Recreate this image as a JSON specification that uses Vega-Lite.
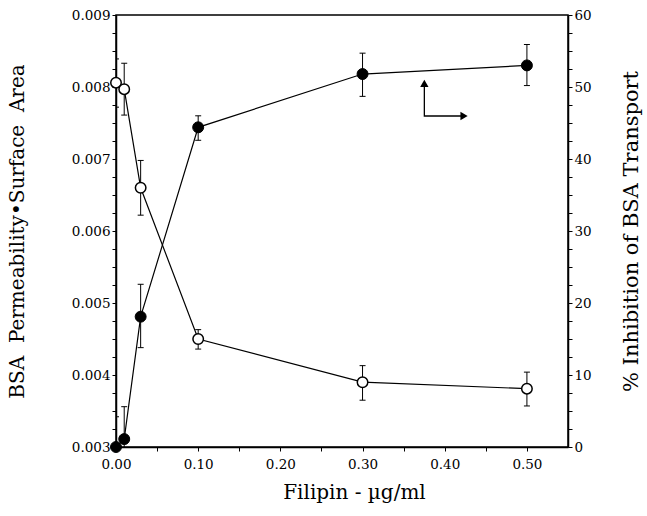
{
  "$schema": "https://vega.github.io/schema/vega-lite/v6.json",
  "width": 452,
  "height": 432,
  "autosize": {"type": "none"},
  "padding": {"left": 116, "top": 15, "right": 79, "bottom": 69},
  "background": "white",
  "config": {
    "view": {"stroke": "black", "strokeWidth": 1.5},
    "axis": {
      "domainColor": "black", "domainWidth": 1.5, "tickColor": "black", "tickSize": 4, "tickWidth": 1,
      "grid": false, "labelFont": "DejaVu Serif", "labelFontSize": 13.5, "labelColor": "black",
      "titleFont": "DejaVu Serif", "titleFontSize": 20, "titleFontWeight": "normal", "titleColor": "black",
      "labelOverlap": false, "labelFlush": false, "labelBound": false
    }
  },
  "datasets": {
    "perm": [
      {"x": 0, "y": 0.00806, "lo": 0.00772, "hi": 0.00839},
      {"x": 0.01, "y": 0.00797, "lo": 0.00761, "hi": 0.00833},
      {"x": 0.03, "y": 0.0066, "lo": 0.00622, "hi": 0.00698},
      {"x": 0.1, "y": 0.0045, "lo": 0.00436, "hi": 0.00463},
      {"x": 0.3, "y": 0.0039, "lo": 0.00365, "hi": 0.00413},
      {"x": 0.5, "y": 0.00381, "lo": 0.00357, "hi": 0.00404}
    ],
    "inhib": [
      {"x": 0, "y": 0, "lo": -4.2, "hi": 4.2},
      {"x": 0.01, "y": 1.1, "lo": -3.4, "hi": 5.6},
      {"x": 0.03, "y": 18.1, "lo": 13.8, "hi": 22.6},
      {"x": 0.1, "y": 44.4, "lo": 42.6, "hi": 46.0},
      {"x": 0.3, "y": 51.8, "lo": 48.7, "hi": 54.7},
      {"x": 0.5, "y": 53.0, "lo": 50.2, "hi": 55.9}
    ],
    "arrow": [
      {"x": 0.3752, "y": 50.5, "ord": 1},
      {"x": 0.3752, "y": 45.97, "ord": 2},
      {"x": 0.4235, "y": 45.97, "ord": 3}
    ],
    "heads": [
      {"x": 0.3752, "y": 50.5, "dir": "up"},
      {"x": 0.4235, "y": 45.97, "dir": "right"}
    ]
  },
  "encoding": {
    "x": {
      "field": "x", "type": "quantitative",
      "scale": {"domain": [0, 0.55], "nice": false, "zero": false},
      "axis": {
        "orient": "bottom",
        "values": [0, 0.05, 0.1, 0.15, 0.2, 0.25, 0.3, 0.35, 0.4, 0.45, 0.5],
        "labelExpr": "abs(datum.value*10 - round(datum.value*10)) < 1e-6 ? format(datum.value, '.2f') : ''",
        "labelPadding": 6,
        "title": "Filipin - µg/ml",
        "titleX": 238,
        "titlePadding": 12
      }
    }
  },
  "layer": [
    {
      "data": {"name": "perm"},
      "layer": [
        {
          "mark": {"type": "rule", "color": "black", "strokeWidth": 1, "clip": true},
          "encoding": {
            "y": {"field": "lo", "type": "quantitative",
              "scale": {"domain": [0.003, 0.009], "nice": false, "zero": false},
              "axis": {"orient": "left", "title": "BSA\u00a0\u00a0Permeability•Surface\u00a0\u00a0Area", "titlePadding": 44,
                "values": [0.003,0.00325,0.0035,0.00375,0.004,0.00425,0.0045,0.00475,0.005,0.00525,0.0055,0.00575,0.006,0.00625,0.0065,0.00675,0.007,0.00725,0.0075,0.00775,0.008,0.00825,0.0085,0.00875,0.009],
                "labelExpr": "abs(datum.value*1000 - round(datum.value*1000)) < 1e-6 ? format(datum.value, '.3f') : ''"}},
            "y2": {"field": "hi"}
          }
        },
        {
          "mark": {"type": "tick", "orient": "horizontal", "size": 6, "thickness": 1, "color": "black", "opacity": 1, "clip": true},
          "encoding": {
            "y": {"field": "hi", "type": "quantitative",
              "scale": {"domain": [0.003, 0.009], "nice": false, "zero": false},
              "axis": {"orient": "left", "title": "BSA\u00a0\u00a0Permeability•Surface\u00a0\u00a0Area", "titlePadding": 44,
                "values": [0.003,0.00325,0.0035,0.00375,0.004,0.00425,0.0045,0.00475,0.005,0.00525,0.0055,0.00575,0.006,0.00625,0.0065,0.00675,0.007,0.00725,0.0075,0.00775,0.008,0.00825,0.0085,0.00875,0.009],
                "labelExpr": "abs(datum.value*1000 - round(datum.value*1000)) < 1e-6 ? format(datum.value, '.3f') : ''"}}
          }
        },
        {
          "mark": {"type": "tick", "orient": "horizontal", "size": 6, "thickness": 1, "color": "black", "opacity": 1, "clip": true},
          "encoding": {
            "y": {"field": "lo", "type": "quantitative",
              "scale": {"domain": [0.003, 0.009], "nice": false, "zero": false},
              "axis": {"orient": "left", "title": "BSA\u00a0\u00a0Permeability•Surface\u00a0\u00a0Area", "titlePadding": 44,
                "values": [0.003,0.00325,0.0035,0.00375,0.004,0.00425,0.0045,0.00475,0.005,0.00525,0.0055,0.00575,0.006,0.00625,0.0065,0.00675,0.007,0.00725,0.0075,0.00775,0.008,0.00825,0.0085,0.00875,0.009],
                "labelExpr": "abs(datum.value*1000 - round(datum.value*1000)) < 1e-6 ? format(datum.value, '.3f') : ''"}}
          }
        },
        {
          "mark": {"type": "line", "color": "black", "strokeWidth": 1.2},
          "encoding": {
            "y": {"field": "y", "type": "quantitative",
              "scale": {"domain": [0.003, 0.009], "nice": false, "zero": false},
              "axis": {"orient": "left", "title": "BSA\u00a0\u00a0Permeability•Surface\u00a0\u00a0Area", "titlePadding": 44,
                "values": [0.003,0.00325,0.0035,0.00375,0.004,0.00425,0.0045,0.00475,0.005,0.00525,0.0055,0.00575,0.006,0.00625,0.0065,0.00675,0.007,0.00725,0.0075,0.00775,0.008,0.00825,0.0085,0.00875,0.009],
                "labelExpr": "abs(datum.value*1000 - round(datum.value*1000)) < 1e-6 ? format(datum.value, '.3f') : ''"}}
          }
        },
        {
          "mark": {"type": "point", "filled": true, "fill": "white", "stroke": "black", "strokeWidth": 1.5, "size": 110, "opacity": 1},
          "encoding": {
            "y": {"field": "y", "type": "quantitative",
              "scale": {"domain": [0.003, 0.009], "nice": false, "zero": false},
              "axis": {"orient": "left", "title": "BSA\u00a0\u00a0Permeability•Surface\u00a0\u00a0Area", "titlePadding": 44,
                "values": [0.003,0.00325,0.0035,0.00375,0.004,0.00425,0.0045,0.00475,0.005,0.00525,0.0055,0.00575,0.006,0.00625,0.0065,0.00675,0.007,0.00725,0.0075,0.00775,0.008,0.00825,0.0085,0.00875,0.009],
                "labelExpr": "abs(datum.value*1000 - round(datum.value*1000)) < 1e-6 ? format(datum.value, '.3f') : ''"}}
          }
        }
      ]
    },
    {
      "layer": [
        {
          "data": {"name": "inhib"},
          "mark": {"type": "rule", "color": "black", "strokeWidth": 1, "clip": true},
          "encoding": {
            "y": {"field": "lo", "type": "quantitative",
              "scale": {"domain": [0, 60], "nice": false, "zero": false},
              "axis": {"orient": "right", "title": "% Inhibition of BSA Transport", "titleAngle": 270, "titlePadding": 50, "titleFontSize": 21,
                "values": [0,2.5,5,7.5,10,12.5,15,17.5,20,22.5,25,27.5,30,32.5,35,37.5,40,42.5,45,47.5,50,52.5,55,57.5,60],
                "labelExpr": "datum.value % 10 == 0 ? format(datum.value, 'd') : ''"}},
            "y2": {"field": "hi"}
          }
        },
        {
          "data": {"name": "inhib"},
          "mark": {"type": "tick", "orient": "horizontal", "size": 6, "thickness": 1, "color": "black", "opacity": 1, "clip": true},
          "encoding": {
            "y": {"field": "hi", "type": "quantitative",
              "scale": {"domain": [0, 60], "nice": false, "zero": false},
              "axis": {"orient": "right", "title": "% Inhibition of BSA Transport", "titleAngle": 270, "titlePadding": 50, "titleFontSize": 21,
                "values": [0,2.5,5,7.5,10,12.5,15,17.5,20,22.5,25,27.5,30,32.5,35,37.5,40,42.5,45,47.5,50,52.5,55,57.5,60],
                "labelExpr": "datum.value % 10 == 0 ? format(datum.value, 'd') : ''"}}
          }
        },
        {
          "data": {"name": "inhib"},
          "mark": {"type": "tick", "orient": "horizontal", "size": 6, "thickness": 1, "color": "black", "opacity": 1, "clip": true},
          "encoding": {
            "y": {"field": "lo", "type": "quantitative",
              "scale": {"domain": [0, 60], "nice": false, "zero": false},
              "axis": {"orient": "right", "title": "% Inhibition of BSA Transport", "titleAngle": 270, "titlePadding": 50, "titleFontSize": 21,
                "values": [0,2.5,5,7.5,10,12.5,15,17.5,20,22.5,25,27.5,30,32.5,35,37.5,40,42.5,45,47.5,50,52.5,55,57.5,60],
                "labelExpr": "datum.value % 10 == 0 ? format(datum.value, 'd') : ''"}}
          }
        },
        {
          "data": {"name": "inhib"},
          "mark": {"type": "line", "color": "black", "strokeWidth": 1.2},
          "encoding": {
            "y": {"field": "y", "type": "quantitative",
              "scale": {"domain": [0, 60], "nice": false, "zero": false},
              "axis": {"orient": "right", "title": "% Inhibition of BSA Transport", "titleAngle": 270, "titlePadding": 50, "titleFontSize": 21,
                "values": [0,2.5,5,7.5,10,12.5,15,17.5,20,22.5,25,27.5,30,32.5,35,37.5,40,42.5,45,47.5,50,52.5,55,57.5,60],
                "labelExpr": "datum.value % 10 == 0 ? format(datum.value, 'd') : ''"}}
          }
        },
        {
          "data": {"name": "inhib"},
          "mark": {"type": "point", "filled": true, "fill": "black", "stroke": "black", "strokeWidth": 1, "size": 120, "opacity": 1},
          "encoding": {
            "y": {"field": "y", "type": "quantitative",
              "scale": {"domain": [0, 60], "nice": false, "zero": false},
              "axis": {"orient": "right", "title": "% Inhibition of BSA Transport", "titleAngle": 270, "titlePadding": 50, "titleFontSize": 21,
                "values": [0,2.5,5,7.5,10,12.5,15,17.5,20,22.5,25,27.5,30,32.5,35,37.5,40,42.5,45,47.5,50,52.5,55,57.5,60],
                "labelExpr": "datum.value % 10 == 0 ? format(datum.value, 'd') : ''"}}
          }
        },
        {
          "data": {"name": "arrow"},
          "mark": {"type": "line", "color": "black", "strokeWidth": 1.3},
          "encoding": {
            "order": {"field": "ord", "type": "quantitative"},
            "y": {"field": "y", "type": "quantitative",
              "scale": {"domain": [0, 60], "nice": false, "zero": false},
              "axis": {"orient": "right", "title": "% Inhibition of BSA Transport", "titleAngle": 270, "titlePadding": 50, "titleFontSize": 21,
                "values": [0,2.5,5,7.5,10,12.5,15,17.5,20,22.5,25,27.5,30,32.5,35,37.5,40,42.5,45,47.5,50,52.5,55,57.5,60],
                "labelExpr": "datum.value % 10 == 0 ? format(datum.value, 'd') : ''"}}
          }
        },
        {
          "data": {"name": "heads"},
          "mark": {"type": "point", "filled": true, "color": "black", "size": 70, "opacity": 1},
          "encoding": {
            "shape": {"field": "dir", "type": "nominal", "scale": {"domain": ["up", "right"], "range": ["triangle-up", "triangle-right"]}, "legend": null},
            "y": {"field": "y", "type": "quantitative",
              "scale": {"domain": [0, 60], "nice": false, "zero": false},
              "axis": {"orient": "right", "title": "% Inhibition of BSA Transport", "titleAngle": 270, "titlePadding": 50, "titleFontSize": 21,
                "values": [0,2.5,5,7.5,10,12.5,15,17.5,20,22.5,25,27.5,30,32.5,35,37.5,40,42.5,45,47.5,50,52.5,55,57.5,60],
                "labelExpr": "datum.value % 10 == 0 ? format(datum.value, 'd') : ''"}}
          }
        }
      ]
    }
  ],
  "resolve": {"scale": {"y": "independent"}}
}
